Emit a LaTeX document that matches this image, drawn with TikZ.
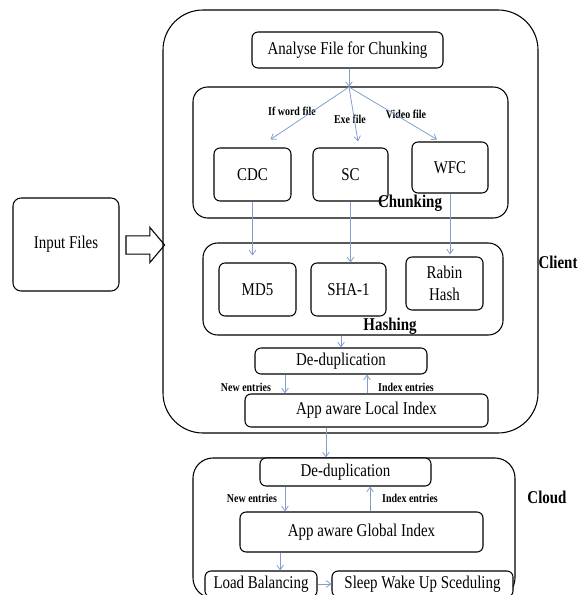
\documentclass[tikz,border=0pt]{standalone}
\usepackage{fontspec}
\setmainfont{Liberation Serif}[FakeStretch=0.83]
\usepackage{tikz}
\usetikzlibrary{arrows.meta, shapes.arrows}
\definecolor{flowblue}{RGB}{130,160,205}

\begin{document}
\begin{tikzpicture}[x=0.75pt, y=0.75pt,
    box/.style={draw, fill=white, line width=0.8pt, rounded corners=4.5pt, align=center, inner sep=0pt, font=\fontsize{13.5}{16.5}\selectfont},
    group/.style={draw, line width=0.8pt, rounded corners=11pt},
    tag/.style={font=\fontsize{13.5}{15}\selectfont\bfseries},
    small/.style={font=\fontsize{9}{10}\selectfont\bfseries},
    flow/.style={-{Straight Barb[length=3.5pt, width=5pt]}, draw=flowblue, line width=0.6pt}]
    \useasboundingbox (0,0) rectangle (583,-595);

    % Input
    \node[box, rounded corners=6pt, minimum width=79.5pt, minimum height=69.75pt] (input) at (66,-244.5) {Input Files};
    \node[draw, line width=0.8pt, single arrow, single arrow tip angle=100, single arrow head extend=6.4pt, single arrow head indent=0pt, minimum width=25.5pt, minimum height=29pt, inner xsep=0pt, inner ysep=6.4pt] (inarrow) at (141.5,-245) {};

    % Client
    \node[group, rounded corners=30pt, minimum width=281.25pt, minimum height=317.25pt] (client) at (350.5,-221.5) {};
    \node[tag] (clientlbl) at (558,-262) {Client};
    \node[box, minimum width=143.25pt, minimum height=27pt] (analyse) at (347.5,-50) {Analyse File for Chunking};

    % Chunking
    \node[group, minimum width=236.25pt, minimum height=98.25pt] (chunk) at (350.5,-152.5) {};
    \node[box, minimum width=57.75pt, minimum height=39.75pt] (cdc) at (252.5,-174.5) {CDC};
    \node[box, minimum width=56.25pt, minimum height=39.75pt] (sc) at (350.5,-174.5) {SC};
    \node[box, minimum width=57pt, minimum height=38.25pt] (wfc) at (450,-167.5) {WFC};
    \node[tag] (chunklbl) at (410,-203) {Chunking};
    \node[small] (wordlbl) at (292,-111) {If word file};
    \node[small] (exelbl) at (350,-119) {Exe file};
    \node[small] (videolbl) at (406,-114) {Video file};
    \coordinate (split) at (349,-87);

    % Hashing
    \node[group, minimum width=225pt, minimum height=69pt] (hash) at (353,-289) {};
    \node[box, minimum width=57.75pt, minimum height=39.75pt] (md5) at (257.5,-289.5) {MD5};
    \node[box, minimum width=56.25pt, minimum height=39.75pt] (sha) at (348.5,-289.5) {SHA-1};
    \node[box, minimum width=57.75pt, minimum height=39.75pt] (rabin) at (444.5,-283.5) {Rabin\\Hash};
    \node[tag] (hashlbl) at (390,-326) {Hashing};

    % Local index
    \node[box, minimum width=129pt, minimum height=19.5pt] (dedupL) at (341,-361) {De-duplication};
    \node[box, minimum width=182.25pt, minimum height=24.75pt] (localidx) at (366.5,-410.5) {App aware Local Index};
    \node[small] (newL) at (246,-387) {New entries};
    \node[small] (indexL) at (406,-387) {Index entries};

    % Cloud
    \node[group, rounded corners=15pt, minimum width=241.5pt, minimum height=105pt] (cloud) at (354,-528) {};
    \node[tag] (cloudlbl) at (547,-497) {Cloud};
    \node[box, minimum width=128.25pt, minimum height=21pt] (dedupG) at (345.5,-472) {De-duplication};
    \node[box, minimum width=182.25pt, minimum height=30pt] (globalidx) at (361.5,-532) {App aware Global Index};
    \node[small] (newG) at (252,-498) {New entries};
    \node[small] (indexG) at (410,-498) {Index entries};
    \node[box, minimum width=84pt, minimum height=19.5pt] (lb) at (261,-584) {Load Balancing};
    \node[box, minimum width=135.75pt, minimum height=19.5pt] (sleep) at (422.5,-584) {Sleep Wake Up Sceduling};

    % Arrows
    \draw[flow] (split |- analyse.south) -- (split);
    \draw[flow] (split) -- ([xshift=13.5pt, yshift=6pt]cdc.north);
    \draw[flow] (split) -- ([xshift=5.6pt, yshift=4.5pt]sc.north);
    \draw[flow] (split) -- ([xshift=-9.75pt, yshift=1.5pt]wfc.north);
    \draw[flow] (cdc.south) -- ([yshift=5.25pt]cdc.south |- md5.north);
    \draw[flow] (sc.south) -- (sc.south |- sha.north);
    \draw[flow] (wfc.south) -- ([yshift=1.5pt]wfc.south |- rabin.north);
    \draw[flow] (dedupL.north |- hash.south) -- (dedupL.north);
    \draw[flow] ([xshift=-42pt]dedupL.south) -- ([xshift=-42pt]dedupL.south |- localidx.north);
    \draw[flow] ([xshift=19.5pt]dedupL.south |- localidx.north) -- ([xshift=19.5pt]dedupL.south);
    \draw[flow] ([xshift=-30.4pt]localidx.south) -- ([xshift=-30.4pt]localidx.south |- dedupG.north);
    \draw[flow] ([xshift=-45.4pt]dedupG.south) -- ([xshift=-45.4pt]dedupG.south |- globalidx.north);
    \draw[flow] ([xshift=18.4pt]dedupG.south |- globalidx.north) -- ([xshift=18.4pt]dedupG.south);
    \draw[flow] ([xshift=-61pt]globalidx.south) -- ([xshift=-61pt]globalidx.south |- lb.north);
    \draw[flow] (lb.east) -- (sleep.west);
\end{tikzpicture}
\end{document}
